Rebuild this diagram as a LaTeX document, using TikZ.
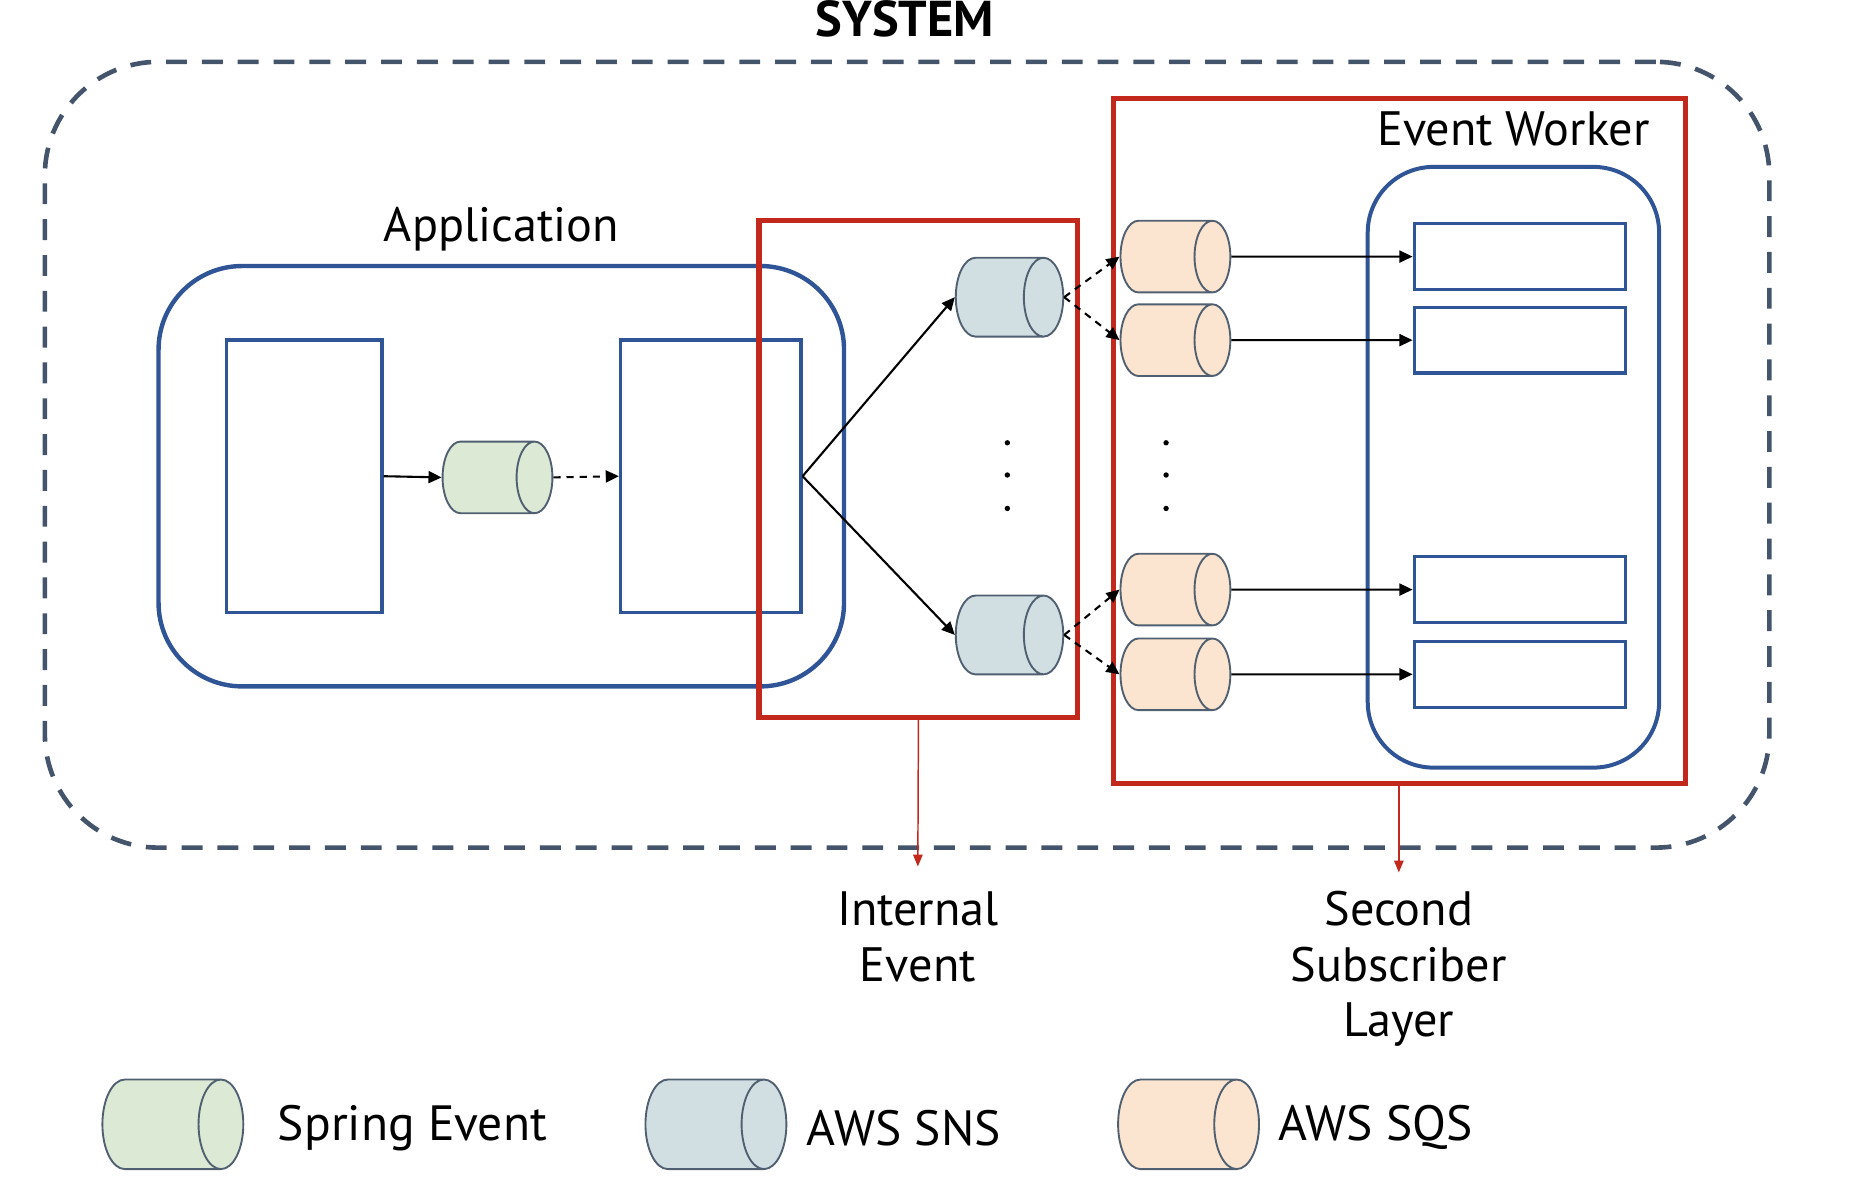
\documentclass[tikz,border=0pt]{standalone}
\usepackage{fontspec}
\setmainfont{PT Sans}
\usetikzlibrary{shapes.geometric,arrows.meta}

\definecolor{sysgray}{RGB}{68,84,106}
\definecolor{appblue}{RGB}{47,85,151}
\definecolor{boxred}{RGB}{194,40,28}
\definecolor{cylline}{RGB}{80,96,112}
\definecolor{springgreen}{RGB}{220,233,213}
\definecolor{snsblue}{RGB}{209,223,227}
\definecolor{sqsorange}{RGB}{251,229,208}

\tikzset{
  queue/.style={cylinder, draw=cylline, line width=0.45pt, inner xsep=0pt, inner ysep=0.3cm,
    aspect=0.5, minimum height=0.92cm, minimum width=0.6cm, anchor=west},
  comp/.style={draw=appblue, line width=0.8pt, inner sep=0pt},
  appbox/.style={draw=appblue, line width=1.05pt, rounded corners=0.7cm, inner sep=0pt},
  layer/.style={draw=boxred, line width=1.25pt, inner sep=0pt},
  sysbox/.style={draw=sysgray, line width=1.1pt, dash pattern=on 1.75mm off 1.25mm,
    rounded corners=0.95cm, inner sep=0pt},
  labeltext/.style={font=\fontsize{11.5}{13.2}\selectfont, inner sep=0pt, align=center},
  legendtext/.style={font=\fontsize{11.8}{14}\selectfont, inner sep=0pt, anchor=west},
  dot/.style={circle, fill=black, inner sep=0pt, minimum size=0.45mm},
  redarrow/.style={draw=boxred, line width=0.35pt, -{Triangle[length=1mm,width=0.8mm]}},
  dasharrow/.style={->, dash pattern=on 0.6mm off 0.5mm}
}

\begin{document}
\begin{tikzpicture}[x=0.01cm, y=-0.01cm, >={Triangle[length=1.1mm,width=1mm]}, line width=0.5pt]
\useasboundingbox (0,0) rectangle (1550,992);

\node[sysbox, minimum width=14.44cm, minimum height=6.58cm] (system) at (760,381) {};
\node[font=\bfseries\fontsize{12}{14}\selectfont, inner sep=0pt] (title) at (758,16) {SYSTEM};

% application
\node[appbox, minimum width=5.74cm, minimum height=3.52cm] (app) at (420,399) {};
\node[labeltext] (applabel) at (420,192) {Application};
\node[comp, minimum width=1.30cm, minimum height=2.28cm] (publisher) at (255,399) {};
\node[comp, minimum width=1.51cm, minimum height=2.28cm] (listener) at (595.5,399) {};
\node[queue, fill=springgreen] (spring) at (370,400) {};
\draw[->] (publisher.east) -- (spring.west);
\draw[dasharrow] (spring.east) -- (listener.west);

% internal event
\node[layer, minimum width=2.67cm, minimum height=4.16cm] (internal) at (769.5,393) {};
\node[queue, fill=snsblue, inner ysep=0.33cm, minimum height=0.9cm, minimum width=0.66cm] (snsA) at (800,249) {};
\node[queue, fill=snsblue, inner ysep=0.33cm, minimum height=0.9cm, minimum width=0.66cm] (snsB) at (800,532) {};
\draw[->] (listener.east) -- (snsA.west);
\draw[->] (listener.east) -- (snsB.west);

% second subscriber layer
\node[layer, minimum width=4.79cm, minimum height=5.73cm] (second) at (1172.5,369.5) {};
\node[appbox, line width=0.95pt, rounded corners=0.55cm, minimum width=2.44cm, minimum height=5.03cm] (worker) at (1268,391.5) {};
\node[labeltext] (workerlabel) at (1268,108) {Event Worker};
\foreach \n/\y in {1/215,2/285,3/494,4/565}{
  \node[queue, fill=sqsorange] (sqs\n) at (938,\y) {};
  \node[comp, minimum width=1.77cm, minimum height=0.55cm] (job\n) at (1273.5,\y) {};
  \draw[->] (sqs\n.east) -- (job\n.west);
}
\draw[dasharrow] (snsA.east) -- (sqs1.west);
\draw[dasharrow] (snsA.east) -- (sqs2.west);
\draw[dasharrow] (snsB.east) -- (sqs3.west);
\draw[dasharrow] (snsB.east) -- (sqs4.west);

\foreach \x/\c in {844/a,977/b}
  \foreach \y/\r in {371/1,398/2,426/3}
    \node[dot] (dot\c\r) at (\x,\y) {};

% captions
\coordinate (internalend) at (769,726);
\coordinate (secondend) at (1172,731);
\draw[redarrow] (internal.south) -- (internalend);
\draw[redarrow] (second.south -| secondend) -- (secondend);
\node[labeltext] (internaltext) at (769,785) {Internal\\Event};
\node[labeltext] (secondtext) at (1172,812) {Second\\Subscriber\\Layer};

% legend
\node[queue, fill=springgreen, inner ysep=0.375cm, minimum height=1.18cm, minimum width=0.75cm] (legspring) at (85,942) {};
\node[legendtext] (legspringtext) at (232,945) {Spring Event};
\node[queue, fill=snsblue, inner ysep=0.375cm, minimum height=1.18cm, minimum width=0.75cm] (legsns) at (540,942) {};
\node[legendtext] (legsnstext) at (675,945) {AWS SNS};
\node[queue, fill=sqsorange, inner ysep=0.375cm, minimum height=1.18cm, minimum width=0.75cm] (legsqs) at (936,942) {};
\node[legendtext] (legsqstext) at (1070,945) {AWS SQS};
\end{tikzpicture}
\end{document}
